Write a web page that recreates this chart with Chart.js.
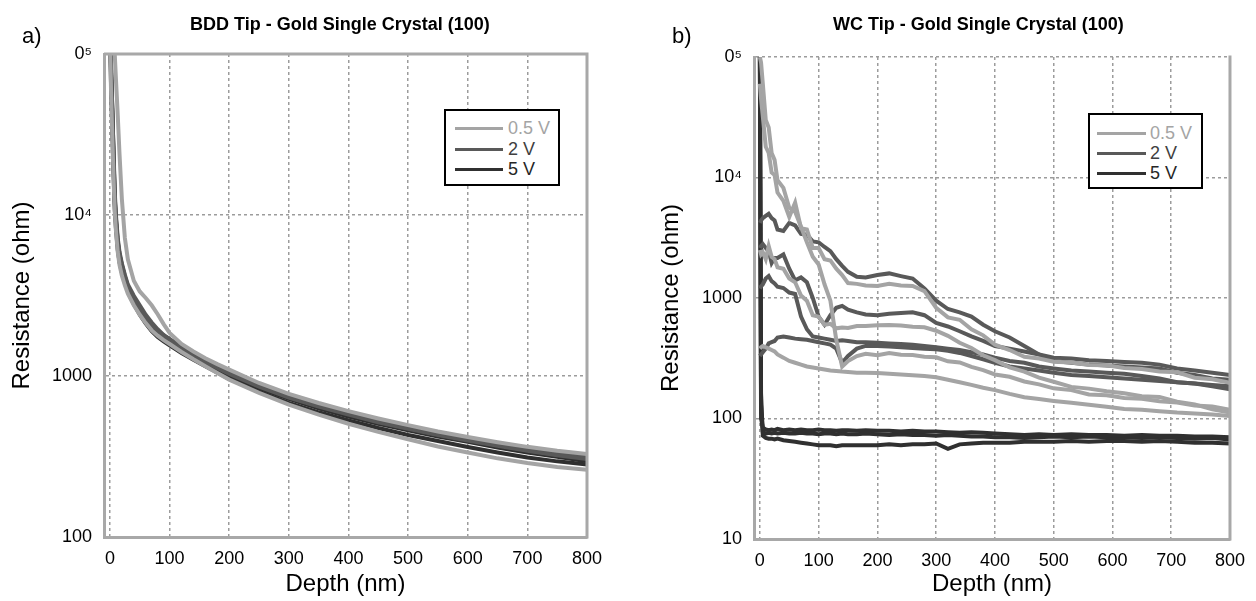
<!DOCTYPE html>
<html>
<head>
<meta charset="utf-8">
<title>Resistance vs depth - BDD and WC tips</title>
<script src="https://cdn.jsdelivr.net/npm/chart.js@4.4.1/dist/chart.umd.min.js"></script>
<style>
  body { margin: 0; background: #fff; }
  #page { position: relative; width: 1256px; height: 601px; font-family: "Liberation Sans", Arial, sans-serif; color: #000; overflow: hidden; }
  canvas { position: absolute; top: 0; }
  .tag { position: absolute; font-size: 22px; line-height: 22px; }
  .ttl { position: absolute; font-size: 18px; line-height: 18px; font-weight: bold; white-space: nowrap; }
  .legend { position: absolute; border: 2px solid #000; background: #fff; box-sizing: border-box; }
  .legend .row { position: absolute; left: 0; height: 18px; }
  .legend .swatch { position: absolute; height: 3px; top: 8px; }
  .legend .txt { position: absolute; top: 0; font-size: 18px; line-height: 18px; white-space: nowrap; }
</style>
</head>
<body>
<div id="page">
  <canvas id="chartA" width="628" height="601" style="left:0"></canvas>
  <canvas id="chartB" width="628" height="601" style="left:628px"></canvas>
  <div class="tag" style="left:22px;top:25px">a)</div>
  <div class="tag" style="left:672px;top:25px">b)</div>
  <div class="ttl" style="left:190px;top:15px">BDD Tip - Gold Single Crystal (100)</div>
  <div class="ttl" style="left:833px;top:15px">WC Tip - Gold Single Crystal (100)</div>
</div>
<script>
/* ---- shared ---- */
const VOLTS = ['0.5 V', '2 V', '5 V'];
const LINE_COLORS = { '0.5 V': '#a4a4a4', '2 V': '#595959', '5 V': '#303030' };
const TEXT_COLORS = { '0.5 V': '#a4a4a4', '2 V': '#404040', '5 V': '#262626' };
const X_TICKS = [0, 100, 200, 300, 400, 500, 600, 700, 800];
const Y_LABELS = { 10: '10', 100: '100', 1000: '1000', 10000: '10\u2074', 100000: '0\u2075' };

/* ---- panel a) BDD tip ---- */
const BDD_DEPTH = [0, 2, 4, 6, 8, 10, 13, 16, 20, 25,
  30, 40, 50, 60, 70, 80, 90, 100, 120, 140,
  160, 180, 200, 250, 300, 350, 400, 450, 500, 550,
  600, 650, 700, 750, 800];
const BDD_Y_TICKS = [100, 1000, 10000, 100000];

const BDD_05V_A = [200000, 200000, 150000, 120000, 100000, 70000, 42000, 24000, 12500, 7200,
  5300, 3900, 3350, 3050, 2750, 2420, 2100, 1850, 1580, 1420,
  1290, 1185, 1095, 905, 775, 680, 605, 545, 495, 452,
  418, 388, 363, 343, 328];
const BDD_05V_B = [120000, 55000, 30000, 17000, 10500, 8000, 5900, 4900, 4200, 3650,
  3250, 2750, 2400, 2130, 1920, 1780, 1670, 1580, 1410, 1270,
  1150, 1045, 950, 785, 665, 575, 505, 450, 405, 365,
  335, 308, 288, 272, 262];
const BDD_2V_A = [140000, 75000, 42000, 23000, 12500, 9200, 6700, 5600, 4800, 4100,
  3550, 3000, 2600, 2300, 2050, 1880, 1750, 1650, 1470, 1340,
  1220, 1120, 1030, 860, 735, 645, 575, 515, 470, 430,
  398, 368, 343, 322, 305];
const BDD_2V_B = [150000, 78000, 44000, 25000, 14000, 10000, 7200, 5900, 5000, 4250,
  3700, 3150, 2750, 2400, 2150, 1950, 1800, 1700, 1520, 1380,
  1250, 1150, 1055, 880, 755, 665, 590, 530, 485, 445,
  410, 380, 355, 335, 318];
const BDD_5V_A = [150000, 70000, 40000, 21000, 12000, 9000, 6500, 5400, 4700, 4000,
  3500, 2950, 2550, 2250, 2000, 1850, 1720, 1620, 1450, 1320,
  1200, 1100, 1010, 840, 720, 630, 560, 505, 460, 420,
  390, 360, 335, 315, 295];
const BDD_5V_B = [130000, 60000, 33000, 18000, 11000, 8300, 6100, 5100, 4400, 3800,
  3350, 2800, 2400, 2120, 1900, 1750, 1640, 1550, 1390, 1260,
  1150, 1050, 960, 800, 680, 595, 530, 475, 430, 395,
  362, 335, 312, 295, 282];
const BDD_5V_C = [160000, 80000, 45000, 24000, 13000, 9500, 6900, 5700, 4900, 4150,
  3600, 3050, 2650, 2330, 2070, 1900, 1780, 1680, 1500, 1360,
  1240, 1130, 1040, 870, 745, 655, 585, 525, 478, 438,
  405, 375, 350, 330, 312];

/* ---- panel b) WC tip ---- */
const WC_DEPTH = [0, 2, 5, 10, 15, 20, 25, 30, 40, 50,
  60, 70, 80, 90, 100, 110, 120, 130, 140, 150,
  165, 180, 200, 220, 240, 260, 280, 300, 320, 340,
  360, 380, 400, 425, 450, 475, 500, 530, 560, 590,
  620, 650, 680, 710, 740, 770, 800];
const WC_Y_TICKS = [10, 100, 1000, 10000, 100000];

const WC_05V_A = [100000, 90000, 60000, 30000, 26000, 16000, 14000, 9500, 8200, 5600,
  5200, 3900, 2900, 2200, 1900, 1300, 950, 450, 270, 300,
  330, 345, 335, 350, 338, 336, 326, 322, 298, 292,
  268, 252, 232, 222, 203, 192, 178, 172, 158, 156,
  148, 146, 139, 136, 128, 126, 118];
const WC_05V_B = [60000, 45000, 32000, 18000, 16000, 11000, 10500, 7500, 6400, 4700,
  6200, 3800, 3700, 2600, 2600, 2100, 2050, 1750, 1550, 1330,
  1310, 1270, 1260, 1310, 1270, 1260, 1140, 830, 690, 660,
  550, 490, 410, 370, 325, 315, 296, 292, 278, 277,
  262, 258, 246, 242, 218, 212, 198];
const WC_05V_C = [2500, 2300, 2400, 2100, 2700, 2200, 2100, 1800, 1750, 1450,
  1350, 1050, 950, 720, 700, 600, 610, 560, 570, 565,
  585, 585, 595, 598, 592, 578, 572, 535, 485, 425,
  385, 335, 305, 265, 245, 218, 202, 183, 177, 168,
  162, 153, 151, 138, 131, 119, 112];
const WC_05V_D = [380, 390, 400, 390, 380, 370, 360, 340, 320, 300,
  290, 280, 270, 265, 260, 255, 250, 248, 245, 243,
  240, 240, 238, 235, 232, 228, 225, 220, 210, 200,
  190, 180, 172, 160, 150, 145, 140, 135, 130, 125,
  120, 118, 115, 112, 110, 108, 105];
const WC_2V_A = [4200, 4400, 4600, 4800, 5000, 4600, 4400, 3700, 3600, 4200,
  4000, 3400, 3350, 2950, 2900, 2650, 2450, 2100, 1850, 1650,
  1500, 1480, 1550, 1600, 1520, 1450, 1200, 950, 810, 760,
  700, 600, 530, 470, 400, 340, 320, 315, 305, 300,
  295, 290, 280, 260, 250, 240, 230];
const WC_2V_B = [2600, 2700, 2800, 2600, 2450, 1950, 2150, 2150, 2300, 1750,
  1400, 1480, 1350, 1000, 700, 600, 720, 830, 860, 800,
  760, 730, 720, 740, 750, 760, 720, 620, 580, 530,
  480, 440, 400, 380, 360, 340, 300, 290, 280, 275,
  270, 265, 260, 240, 230, 215, 210];
const WC_2V_C = [1200, 1250, 1300, 1450, 1520, 1380, 1320, 1240, 1210, 1110,
  1080, 700, 550, 480, 470, 460, 450, 440, 445, 440,
  430, 430, 425, 420, 415, 410, 400, 390, 380, 370,
  355, 340, 320, 300, 290, 270, 260, 250, 245, 240,
  235, 225, 215, 200, 195, 185, 175];
const WC_2V_D = [330, 340, 355, 380, 420, 430, 440, 470, 480, 470,
  460, 455, 450, 440, 430, 420, 410, 380, 290, 330,
  380, 400, 400, 395, 390, 385, 380, 375, 365, 350,
  330, 310, 290, 270, 260, 250, 240, 230, 225, 220,
  215, 210, 205, 200, 195, 190, 185];
const WC_5V_A = [100000, 100, 84, 81, 80, 81, 80, 82, 80, 81,
  80, 81, 80, 80, 81, 80, 80, 79, 80, 80,
  79, 80, 79, 79, 78, 79, 78, 78, 77, 76,
  77, 76, 75, 74, 73, 74, 73, 74, 73, 73,
  72, 73, 72, 72, 71, 71, 70];
const WC_5V_B = [100000, 130, 77, 75, 76, 75, 76, 75, 76, 75,
  75, 76, 75, 75, 74, 75, 75, 74, 75, 74,
  74, 75, 74, 73, 74, 73, 73, 72, 73, 72,
  71, 71, 70, 70, 69, 70, 71, 70, 71, 70,
  70, 69, 70, 69, 68, 69, 67];
const WC_5V_C = [100000, 160, 72, 69, 68, 68, 67, 68, 66, 65,
  64, 63, 62, 61, 60, 60, 60, 59, 60, 60,
  60, 60, 60, 61, 60, 61, 61, 62, 56, 61,
  62, 63, 63, 63, 64, 64, 64, 65, 64, 65,
  65, 64, 65, 64, 63, 63, 62];

const GRID = '#9c9c9c';
const AXIS = '#a8a8a8';

// solid outline on the open sides of the plot area
const framePlugin = {
  id: 'frame',
  afterDatasetsDraw(chart, args, opts) {
    const { ctx, chartArea: a } = chart;
    ctx.save();
    ctx.strokeStyle = AXIS;
    ctx.lineWidth = 3;
    ctx.beginPath();
    if (opts.top) { ctx.moveTo(a.left, a.top); ctx.lineTo(a.right + 1.5, a.top); }
    ctx.moveTo(a.right, a.top - 1.5);
    ctx.lineTo(a.right, a.bottom + 1.5);
    ctx.stroke();
    ctx.restore();
  }
};

function makeDatasets(depth, traces) {
  return traces.map(t => ({
    label: t.volt,
    data: depth.map((x, i) => ({ x, y: t.values[i] })),
    borderColor: LINE_COLORS[t.volt],
    borderWidth: 4,
    pointRadius: 0,
    tension: 0,
    clip: 0
  }));
}

function makeChart(id, depth, traces, cfg) {
  return new Chart(document.getElementById(id), {
    type: 'line',
    data: { datasets: makeDatasets(depth, traces) },
    options: {
      responsive: false,
      animation: false,
      events: [],
      layout: { padding: cfg.padding },
      plugins: {
        legend: { display: false },
        tooltip: { enabled: false },
        frame: { top: cfg.solidTop }
      },
      scales: {
        x: {
          type: 'linear',
          min: -10,
          max: 800,
          afterBuildTicks: s => { s.ticks = X_TICKS.map(v => ({ value: v })); },
          afterFit: s => { s.height = cfg.xHeight; },
          grid: { color: GRID, lineWidth: 1.5, drawTicks: false },
          border: { color: AXIS, width: 3, dash: [3, 3] },
          ticks: { color: '#000', font: { size: 18 }, padding: 11, maxRotation: 0, autoSkip: false },
          title: { display: true, text: 'Depth (nm)', color: '#000', font: { size: 24 }, padding: { top: 0, bottom: 2 } }
        },
        y: {
          type: 'logarithmic',
          min: cfg.yTicks[0],
          max: 100000,
          afterBuildTicks: s => { s.ticks = cfg.yTicks.map(v => ({ value: v })); },
          afterFit: s => { s.width = cfg.yWidth; },
          grid: { color: GRID, lineWidth: 1.5, drawTicks: false },
          border: { color: AXIS, width: 3, dash: [3, 3] },
          ticks: { color: '#000', font: { size: 18 }, padding: 12, autoSkip: false, callback: v => Y_LABELS[v] },
          title: { display: true, text: 'Resistance (ohm)', color: '#000', font: { size: 24 }, padding: { top: cfg.yTitlePad, bottom: 0 } }
        }
      }
    },
    plugins: [framePlugin]
  });
}

function addLegend(left, top, width, height, rows, lineX, lineW, textX) {
  const box = document.createElement('div');
  box.className = 'legend';
  Object.assign(box.style, { left: left + 'px', top: top + 'px', width: width + 'px', height: height + 'px' });
  VOLTS.forEach((v, i) => {
    const row = document.createElement('div');
    row.className = 'row';
    row.style.top = (rows[i] - 9) + 'px';
    row.style.width = '100%';
    row.innerHTML =
      `<div class="swatch" style="left:${lineX}px;width:${lineW}px;background:${LINE_COLORS[v]}"></div>` +
      `<div class="txt" style="left:${textX}px;color:${TEXT_COLORS[v]}">${v}</div>`;
    box.appendChild(row);
  });
  document.getElementById('page').appendChild(box);
}

makeChart('chartA', BDD_DEPTH, [
  { volt: '0.5 V', values: BDD_05V_A },
  { volt: '0.5 V', values: BDD_05V_B },
  { volt: '2 V', values: BDD_2V_A },
  { volt: '2 V', values: BDD_2V_B },
  { volt: '5 V', values: BDD_5V_A },
  { volt: '5 V', values: BDD_5V_B },
  { volt: '5 V', values: BDD_5V_C }
], { padding: { left: 0, right: 41, top: 54, bottom: 0 }, yWidth: 104, xHeight: 64, yTicks: BDD_Y_TICKS, yTitlePad: 8, solidTop: true });

makeChart('chartB', WC_DEPTH, [
  { volt: '0.5 V', values: WC_05V_A },
  { volt: '0.5 V', values: WC_05V_B },
  { volt: '0.5 V', values: WC_05V_C },
  { volt: '0.5 V', values: WC_05V_D },
  { volt: '2 V', values: WC_2V_A },
  { volt: '2 V', values: WC_2V_B },
  { volt: '2 V', values: WC_2V_C },
  { volt: '2 V', values: WC_2V_D },
  { volt: '5 V', values: WC_5V_A },
  { volt: '5 V', values: WC_5V_B },
  { volt: '5 V', values: WC_5V_C }
], { padding: { left: 0, right: 19, top: 57, bottom: 0 }, yWidth: 126, xHeight: 62, yTicks: WC_Y_TICKS, yTitlePad: 29, solidTop: false });

addLegend(444, 109, 116, 77, [17, 38, 58], 9, 48, 62);
addLegend(1088, 113, 115, 76, [18, 38, 58], 7, 49, 60);
</script>
</body>
</html>
